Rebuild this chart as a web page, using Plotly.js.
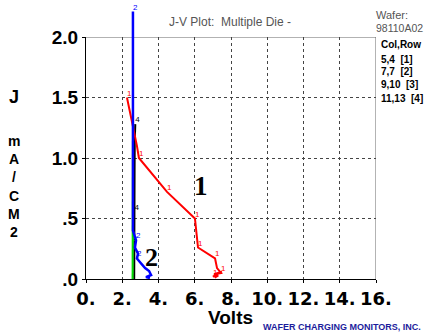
<!DOCTYPE html>
<html><head><meta charset="utf-8">
<script src="https://cdn.plot.ly/plotly-3.0.1.min.js"></script>
<style>html,body{margin:0;padding:0;background:#fff}#chart{width:424px;height:334px}</style>
</head><body><div id="chart"></div>
<script>
// Die 1 (5,4) - red
const die1X = [2.26, 2.65, 2.81, 2.92, 4.47, 6.01, 6.18, 7.12, 7.23, 7.45, 7.06, 7.50, 7.00, 7.30, 7.10];
const die1Y = [1.50, 1.23, 1.10, 1.00, 0.72, 0.50, 0.26, 0.17, 0.09, 0.05, 0.04, 0.06, 0.02, 0.03, 0.01];
const die1Txt = ["1", "", "", "1", "1", "1", "1", "1", "", "1", "", "", "1", "", ""];
// Die 2 (7,7) - blue
const die2X = [2.59, 2.59, 2.59, 2.76, 2.70, 2.87, 2.81, 3.03, 3.26, 3.48, 3.59, 3.31, 3.53];
const die2Y = [2.21, 1.20, 0.40, 0.32, 0.26, 0.21, 0.17, 0.13, 0.09, 0.066, 0.033, 0.016, 0.008];
const die2Txt = ["2", "", "", "2", "", "", "2", "", "", "", "", "", ""];
// Die 3 (9,10) - green
const die3X = [2.59, 2.58, 2.58, 2.57, 2.57];
const die3Y = [1.14, 0.90, 0.60, 0.30, 0.00];
const die3Txt = ["", "", "", "3", ""];
// Die 4 (11,13) - black
const die4X = [2.72, 2.69, 2.68, 2.67, 2.67, 2.66, 2.66];
const die4Y = [1.28, 1.15, 0.90, 0.55, 0.30, 0.10, 0.00];
const die4Txt = ["4", "", "", "4", "", "", ""];

const xTickVals = [0, 2, 4, 6, 8, 10, 12, 14, 16];
const xTickText = ["0.", "2.", "4.", "6.", "8.", "10.", "12.", "14.", "16."];
const yTickVals = [0, 0.5, 1.0, 1.5, 2.0];
const yTickText = [".0", ".5", "1.0", "1.5", "2.0"];
const legendLines = ["5,4  [1]", "7,7  [2]", "9,10  [3]", "11,13  [4]"];

function tr(x, y, t, color, w, axes) {
  return {x: x, y: y, text: t, type: 'scatter', mode: 'lines+text',
    xaxis: axes[0], yaxis: axes[1],
    line: {color: color, width: w}, textposition: 'top right',
    textfont: {family: 'Arial', size: 8, color: color}, cliponaxis: false,
    hoverinfo: 'skip', showlegend: false};
}
const data = [
  tr(die4X, die4Y, die4Txt, '#000000', 2, ['x', 'y']),
  tr(die3X, die3Y, die3Txt, '#00dd00', 2, ['x', 'y']),
  tr(die1X, die1Y, die1Txt, '#ff0000', 2, ['x', 'y']),
  tr(die2X, die2Y, die2Txt, '#0000ff', 2.5, ['x2', 'y2'])
];

// pixel -> paper helpers (plot area spans x 86..376, y 9..279)
const px = v => (v - 86) / 290;
const py = v => (279 - v) / 270;

const xFont = {family: '"DejaVu Sans"', size: 18, color: '#000', weight: 'bold'};
const yFont = {family: 'Arial, "Liberation Sans"', size: 19, color: '#000', weight: 'bold'};
const ann = [];
ann.push({xref: 'x', yref: 'y', x: 6.34, y: 0.77, text: '1', showarrow: false,
  font: {family: '"Liberation Serif", "Times New Roman"', size: 27, weight: 'bold', color: '#000'}});
ann.push({xref: 'x', yref: 'y', x: 3.62, y: 0.18, text: '2', showarrow: false,
  font: {family: '"Liberation Serif", "Times New Roman"', size: 26, weight: 'bold', color: '#000'}});
ann.push({xref: 'paper', yref: 'paper', x: px(230), y: py(22), xanchor: 'center', yanchor: 'middle',
  text: 'J-V Plot:  Multiple Die -', showarrow: false, font: {family: 'Arial', size: 12, color: '#555'}});
ann.push({xref: 'paper', yref: 'paper', x: px(374), y: py(15), xanchor: 'left', yanchor: 'middle',
  text: 'Wafer:', showarrow: false, font: {family: 'Arial', size: 11, color: '#555'}});
ann.push({xref: 'paper', yref: 'paper', x: px(374), y: py(28), xanchor: 'left', yanchor: 'middle',
  text: '98110A02', showarrow: false, font: {family: 'Arial', size: 10.5, color: '#555'}});
ann.push({xref: 'paper', yref: 'paper', x: px(379), y: py(45), xanchor: 'left', yanchor: 'middle',
  text: 'Col,Row', showarrow: false, font: {family: 'Arial', size: 10, color: '#000', weight: 'bold'}});
legendLines.forEach((s, i) => ann.push({xref: 'paper', yref: 'paper', x: px(379), y: py(59 + 13 * i),
  xanchor: 'left', yanchor: 'middle', text: s, showarrow: false,
  font: {family: 'Arial', size: 10, color: '#000', weight: 'bold'}}));
const yTitle = ['J', 'm', 'A', '/', 'C', 'M', '2'];
const yTitlePos = [97, 141, 159, 177, 196, 214, 232];
yTitle.forEach((s, i) => ann.push({xref: 'paper', yref: 'paper', x: px(14), y: py(yTitlePos[i]),
  xanchor: 'center', yanchor: 'middle', text: s, showarrow: false,
  font: {family: 'Arial', size: i === 0 ? 18 : 14, color: '#000', weight: 'bold'}}));
ann.push({xref: 'paper', yref: 'paper', x: px(230), y: py(317), xanchor: 'center', yanchor: 'middle',
  text: 'Volts', showarrow: false, font: {family: 'Arial', size: 19, color: '#000', weight: 'bold'}});
ann.push({xref: 'paper', yref: 'paper', x: px(423), y: py(327), xanchor: 'right', yanchor: 'middle',
  text: 'WAFER CHARGING MONITORS, INC.', showarrow: false,
  font: {family: 'Arial', size: 9, color: '#1c1c9c', weight: 'bold'}});

const yDomTop = 242 / 270;
const layout = {
  width: 424, height: 334, paper_bgcolor: '#fff', plot_bgcolor: 'rgba(0,0,0,0)',
  margin: {l: 86, r: 48, t: 9, b: 55},
  showlegend: false,
  xaxis: {range: [0, 16], tickvals: xTickVals, ticktext: xTickText, tickfont: xFont,
    showgrid: true, gridcolor: '#444', griddash: 'dot', gridwidth: 1,
    showline: true, linecolor: '#000', linewidth: 1, zeroline: false,
    ticks: 'outside', ticklen: 3, tickcolor: '#000', anchor: 'y'},
  yaxis: {range: [0, 2], domain: [0, yDomTop], tickvals: yTickVals, ticktext: yTickText, tickfont: yFont,
    showgrid: true, gridcolor: '#444', griddash: 'dot', gridwidth: 1,
    showline: true, linecolor: '#000', linewidth: 1, zeroline: false,
    ticks: 'outside', ticklen: 3, tickcolor: '#000', anchor: 'x'},
  xaxis2: {range: [0, 16], domain: [0, 1], visible: false, anchor: 'y2'},
  yaxis2: {range: [0, 2 / yDomTop], domain: [0, 1], visible: false, anchor: 'x2'},
  shapes: [
    {type: 'line', xref: 'x', yref: 'y', x0: 0, x1: 16, y0: 2, y1: 2, line: {color: '#666', width: 1}, layer: 'below'},
    {type: 'line', xref: 'x', yref: 'y', x0: 16, x1: 16, y0: 0, y1: 2, line: {color: '#666', width: 1}, layer: 'below'}
  ],
  annotations: ann
};
Plotly.newPlot('chart', data, layout, {staticPlot: true, displayModeBar: false});
</script></body></html>
